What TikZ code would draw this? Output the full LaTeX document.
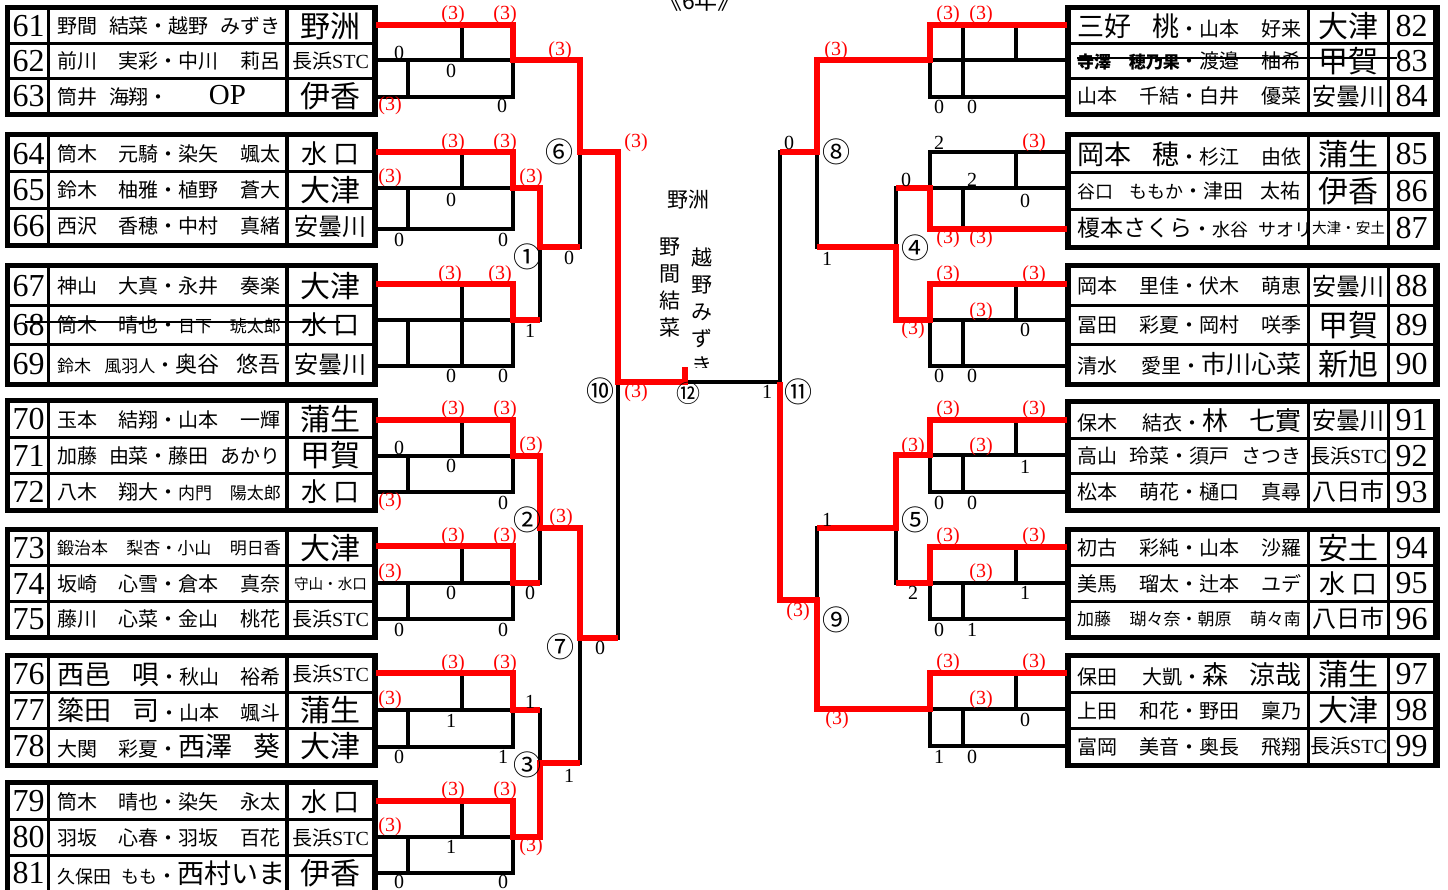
\documentclass[tikz,border=0pt]{standalone}
\usepackage{fontspec}
\setmainfont{Noto Sans CJK JP}
\newfontfamily\lat{Liberation Serif}
\usetikzlibrary{positioning}
\definecolor{winred}{RGB}{255,0,0}

\newcommand{\nmsp}{\hspace{.6em plus 3em}}
\newcommand{\bign}{\fontsize{13.5}{13.5}\selectfont}
\newcommand{\smalln}{\fontsize{8.5}{8.5}\selectfont}
\newcommand{\tmbig}{\fontsize{15}{15}\selectfont}
\newcommand{\tmmid}{\fontsize{12}{12}\selectfont}
\newcommand{\tmsm}{\fontsize{10}{10}\selectfont}
\newcommand{\tmxs}{\fontsize{7.3}{7.3}\selectfont}
\newcommand{\stc}{\tmsm 長浜{\lat STC}}
\newcommand{\mizu}{\fontsize{13}{13}\selectfont 水\hspace{.25em}口}
\newcommand{\pairbox}[1]{\makebox[112pt][s]{#1}}

\newcommand{\lrow}[6]{%
  \pgfmathsetmacro{\rh}{(#3-#2-16)/3}%
  \pgfmathsetmacro{\rt}{#2+5+#4*(\rh+3)}%
  \pgfmathsetmacro{\rb}{\rt+\rh}%
  \pgfmathsetmacro{\rc}{\rt+\rh/2}%
  \fill[white] (10,\rt) rectangle (47,\rb);
  \fill[white] (50,\rt) rectangle (285,\rb);
  \fill[white] (289,\rt) rectangle (372,\rb);
  \coordinate (c#1) at (0,\rc);
  \node[numtxt] (n#1) at (28.5,\rc) {#1};
  \node[pairtxt] (p#1) at (169,\rc) {\pairbox{#5}};
  \node[teamtxt] (t#1) at (330.5,\rc) {#6};
}
\newcommand{\rrow}[6]{%
  \pgfmathsetmacro{\rh}{(#3-#2-16)/3}%
  \pgfmathsetmacro{\rt}{#2+5+#4*(\rh+3)}%
  \pgfmathsetmacro{\rb}{\rt+\rh}%
  \pgfmathsetmacro{\rc}{\rt+\rh/2}%
  \fill[white] (1071,\rt) rectangle (1307,\rb);
  \fill[white] (1310,\rt) rectangle (1387,\rb);
  \fill[white] (1390,\rt) rectangle (1433,\rb);
  \coordinate (c#1) at (0,\rc);
  \node[pairtxt] (p#1) at (1189,\rc) {\pairbox{#5}};
  \node[teamtxt] (t#1) at (1348.5,\rc) {#6};
  \node[numtxt] (n#1) at (1411.5,\rc) {#1};
}
\newcommand{\lleague}[4]{%
  \foreach \yy in {#1,#2,#3} \draw[bline] (376,\yy) -- (513,\yy);
  \draw[bline] (462,#1) -- (462,#4);
  \draw[bline] (408,#2) -- (408,#3);
  \draw[bline] (513,#1) -- (513,#3);
}
\newcommand{\rleague}[4]{%
  \foreach \yy in {#1,#2,#3} \draw[bline] (930,\yy) -- (1067,\yy);
  \draw[bline] (1016,#1) -- (1016,#2);
  \draw[bline] (963,#4) -- (963,#3);
  \draw[bline] (930,#1) -- (930,#3);
}

\begin{document}
\begin{tikzpicture}[x=0.5pt, y=-0.5pt,
  numtxt/.style={font=\lat\fontsize{16}{16}\selectfont, inner sep=0pt},
  pairtxt/.style={font=\fontsize{10}{10}\selectfont, inner sep=0pt},
  teamtxt/.style={font=\tmbig, inner sep=0pt},
  sc/.style={font=\lat\fontsize{10}{10}\selectfont, inner sep=0pt},
  wsc/.style={sc, text=winred},
  circ/.style={font=\fontsize{14}{14}\selectfont, inner sep=0pt},
  vtxt/.style={font=\fontsize{10.5}{13.5}\selectfont, align=center, inner sep=0pt},
  bline/.style={line width=1.7pt, line cap=rect},
  win/.style={line width=3.3pt, draw=winred},
  strike/.style={line width=1.4pt}
]
\path[use as bounding box] (0,0) rectangle (1448,890);
\clip (0,0) rectangle (1448,890);

% left tables
\fill (5,5) rectangle (378,117);
\lrow{61}{5}{117}{0}{野間\nmsp 結菜・越野\nmsp みずき}{野洲}
\lrow{62}{5}{117}{1}{前川\nmsp 実彩・中川\nmsp 莉呂}{\stc}
\lrow{63}{5}{117}{2}{筒井\hspace{.6em}海翔・\hspace{2em}{\lat\fontsize{14.5}{14.5}\selectfont OP}}{伊香}
\fill (5,132) rectangle (378,248);
\lrow{64}{132}{248}{0}{筒木\nmsp 元騎・染矢\nmsp 颯太}{\mizu}
\lrow{65}{132}{248}{1}{鈴木\nmsp 柚雅・植野\nmsp 蒼大}{大津}
\lrow{66}{132}{248}{2}{西沢\nmsp 香穂・中村\nmsp 真緒}{\tmmid 安曇川}
\fill (5,263) rectangle (378,387);
\lrow{67}{263}{387}{0}{神山\nmsp 大真・永井\nmsp 奏楽}{大津}
\lrow{68}{263}{387}{1}{筒木\nmsp 晴也・{\smalln 日下\nmsp 琥太郎}}{\mizu}
\lrow{69}{263}{387}{2}{{\smalln 鈴木\nmsp 風羽人}・{\fontsize{11}{11}\selectfont 奥谷\nmsp 悠吾}}{\tmmid 安曇川}
\fill (5,398) rectangle (378,513);
\lrow{70}{398}{513}{0}{玉本\nmsp 結翔・山本\nmsp 一輝}{蒲生}
\lrow{71}{398}{513}{1}{加藤\nmsp 由菜・藤田\nmsp あかり}{甲賀}
\lrow{72}{398}{513}{2}{八木\nmsp 翔大・{\smalln 内門\nmsp 陽太郎}}{\mizu}
\fill (5,527) rectangle (378,640);
\lrow{73}{527}{640}{0}{{\smalln 鍛治本\nmsp 梨杏・小山\nmsp 明日香}}{大津}
\lrow{74}{527}{640}{1}{坂崎\nmsp 心雪・倉本\nmsp 真奈}{\tmxs 守山・水口}
\lrow{75}{527}{640}{2}{藤川\nmsp 心菜・金山\nmsp 桃花}{\stc}
\fill (5,653) rectangle (378,768);
\lrow{76}{653}{768}{0}{{\bign 西邑\hspace{.8em}唄}・秋山\nmsp 裕希}{\stc}
\lrow{77}{653}{768}{1}{{\bign 簗田\hspace{.8em}司}・山本\nmsp 颯斗}{蒲生}
\lrow{78}{653}{768}{2}{大関\nmsp 彩夏・{\bign 西澤\hspace{.8em}葵}}{大津}
\fill (5,780) rectangle (378,895);
\lrow{79}{780}{895}{0}{筒木\nmsp 晴也・染矢\nmsp 永太}{\mizu}
\lrow{80}{780}{895}{1}{羽坂\nmsp 心春・羽坂\nmsp 百花}{\stc}
\lrow{81}{780}{895}{2}{{\fontsize{9}{9}\selectfont 久保田\nmsp もも}・{\bign 西村いま}}{伊香}

% right tables
\fill (1065,5) rectangle (1440,117);
\rrow{82}{5}{117}{0}{{\bign 三好\hspace{.8em}桃}・山本\nmsp 好来}{大津}
\rrow{83}{5}{117}{1}{{\bfseries\smalln 寺澤\nmsp 穂乃果}・渡邉\nmsp 柚希}{甲賀}
\rrow{84}{5}{117}{2}{山本\nmsp 千結・白井\nmsp 優菜}{\tmmid 安曇川}
\fill (1065,132) rectangle (1440,250);
\rrow{85}{132}{250}{0}{{\bign 岡本\hspace{.8em}穂}・杉江\nmsp 由依}{蒲生}
\rrow{86}{132}{250}{1}{{\fontsize{9}{9}\selectfont 谷口\nmsp ももか}・津田\nmsp 太祐}{伊香}
\rrow{87}{132}{250}{2}{{\fontsize{11.5}{11.5}\selectfont 榎本さくら}・{\fontsize{9}{9}\selectfont 水谷\nmsp サオリ}}{\tmxs 大津・安土}
\fill (1065,263) rectangle (1440,387);
\rrow{88}{263}{387}{0}{岡本\nmsp 里佳・伏木\nmsp 萌恵}{\tmmid 安曇川}
\rrow{89}{263}{387}{1}{冨田\nmsp 彩夏・岡村\nmsp 咲季}{甲賀}
\rrow{90}{263}{387}{2}{清水\nmsp 愛里・{\fontsize{12.5}{12.5}\selectfont 市川心菜}}{新旭}
\fill (1065,399) rectangle (1440,513);
\rrow{91}{399}{513}{0}{保木\nmsp 結衣・{\fontsize{13}{13}\selectfont 林\hspace{.8em}七實}}{\tmmid 安曇川}
\rrow{92}{399}{513}{1}{高山\nmsp 玲菜・須戸\nmsp さつき}{\stc}
\rrow{93}{399}{513}{2}{松本\nmsp 萌花・樋口\nmsp 真尋}{\tmmid 八日市}
\fill (1065,527) rectangle (1440,640);
\rrow{94}{527}{640}{0}{初古\nmsp 彩純・山本\nmsp 沙羅}{安土}
\rrow{95}{527}{640}{1}{美馬\nmsp 瑠太・辻本\nmsp ユデ}{\mizu}
\rrow{96}{527}{640}{2}{{\smalln 加藤\nmsp 瑚々奈・朝原\nmsp 萌々南}}{\tmmid 八日市}
\fill (1065,653) rectangle (1440,768);
\rrow{97}{653}{768}{0}{保田\nmsp 大凱・{\fontsize{13}{13}\selectfont 森\hspace{.8em}涼哉}}{蒲生}
\rrow{98}{653}{768}{1}{上田\nmsp 和花・野田\nmsp 稟乃}{大津}
\rrow{99}{653}{768}{2}{富岡\nmsp 美音・奥長\nmsp 飛翔}{\stc}

\draw[strike] ([shift={(25,-3)}]c68) -- ([shift={(340,-3)}]c68);
\draw[strike] ([shift={(1077,-3)}]c83) -- ([shift={(1397,-3)}]c83);

% league lines
\lleague{25}{60}{97}{60}
\lleague{152}{188}{229}{188}
\lleague{284}{320}{366}{366}
\lleague{420}{456}{492}{456}
\lleague{546}{583}{619}{583}
\lleague{673}{710}{747}{710}
\lleague{801}{837}{873}{837}
\rleague{25}{60}{97}{25}
\rleague{152}{188}{229}{188}
\rleague{284}{320}{366}{320}
\rleague{420}{455}{492}{455}
\rleague{547}{583}{619}{583}
\rleague{673}{709}{746}{709}

% bracket points
\coordinate (gl1) at (513,60);  \coordinate (gl2) at (513,188);
\coordinate (gl3) at (513,320); \coordinate (gl4) at (513,456);
\coordinate (gl5) at (513,583); \coordinate (gl6) at (513,710);
\coordinate (gl7) at (513,837);
\coordinate (gr1) at (930,60);  \coordinate (gr2) at (930,188);
\coordinate (gr3) at (930,320); \coordinate (gr4) at (930,455);
\coordinate (gr5) at (930,583); \coordinate (gr6) at (930,709);
\coordinate (m1) at (540,247);  \coordinate (m2) at (540,528);
\coordinate (m3) at (540,763);  \coordinate (m6) at (580,152);
\coordinate (m7) at (580,638);  \coordinate (m10) at (618,382);
\coordinate (m12) at (685,382); \coordinate (m11) at (780,382);
\coordinate (m8) at (817,152);  \coordinate (m9) at (817,600);
\coordinate (m4) at (896,247);  \coordinate (m5) at (896,528);

\draw[bline] (m6) -- (m1 -| m6);
\draw[bline] (m1) -- (gl3 -| m1);
\draw[bline] (m10) -- (m7 -| m10);
\draw[bline] (m2) -- (gl5 -| m2);
\draw[bline] (gl6 -| m3) -- (m3);
\draw[bline] (m7) -- (m3 -| m7);
\draw[bline] (m12) -- (m11);
\draw[bline] (m8 -| m11) -- (m11);
\draw[bline] (m8) -- (m4 -| m8);
\draw[bline] (gr2 -| m4) -- (m4);
\draw[bline] (m5 -| m9) -- (m9);
\draw[bline] (m5) -- (gr5 -| m5);

\draw[win] (376,25) -| (gl1) -| (m6) -| (m10) -- (m12) -- ++(0,-15);
\draw[win] (376,152) -| (gl2) -| (m1) -- (m1 -| m6);
\draw[win] (376,284) -| (gl3) -- (gl3 -| m1);
\draw[win] (376,420) -| (gl4) -| (m2) -| (m7) -- (m7 -| m10);
\draw[win] (376,546) -| (gl5) -- (gl5 -| m2);
\draw[win] (376,673) -| (gl6) -- (gl6 -| m3);
\draw[win] (376,801) -| (gl7) -| (m3) -- (m3 -| m7);
\draw[win] (1067,25) -| (gr1) -| (m8) -- (m8 -| m11);
\draw[win] (1067,229) -| (gr2) -- (gr2 -| m4);
\draw[win] (1067,284) -| (gr3) -| (m4) -- (m4 -| m8);
\draw[win] (1067,420) -| (gr4) -| (m5) -- (m5 -| m9);
\draw[win] (1067,547) -| (gr5) -- (gr5 -| m5);
\draw[win] (1067,673) -| (gr6) -| (m9) -| (m11);

% scores
\foreach \x/\y/\s [count=\i] in {399/53/0, 451/71/0, 502/106/0, 451/200/0, 399/240/0,
  503/240/0, 451/376/0, 503/376/0, 399/448/0, 451/466/0, 503/503/0, 451/593/0,
  399/630/0, 503/630/0, 451/721/1, 399/757/0, 503/757/1, 451/847/1, 399/882/0,
  503/882/0, 569/258/0, 530/331/1, 530/593/0, 600/648/0, 530/702/1, 569/776/1,
  767/392/1, 939/107/0, 972/107/0, 939/143/2, 972/180/2, 1025/201/0, 1025/330/0,
  939/376/0, 972/376/0, 1025/467/1, 939/503/0, 972/503/0, 1025/593/1, 939/630/0,
  972/630/1, 1025/720/0, 939/757/1, 972/757/0, 789/143/0, 827/259/1, 906/180/0,
  827/520/1, 913/593/2}
  \node[sc] (b\i) at (\x,\y) {\s};
\foreach \x/\y [count=\i] in {453/15, 505/15, 390/106, 453/143, 505/143, 390/178,
  450/275, 500/275, 453/410, 505/410, 390/502, 453/537, 505/537, 390/573, 453/664,
  505/664, 390/700, 453/791, 505/791, 390/827, 560/51, 636/143, 531/178, 531/446,
  561/518, 531/847, 636/393, 948/15, 981/15, 1034/143, 948/239, 981/239, 948/275,
  1034/275, 981/312, 948/410, 1034/410, 981/447, 948/537, 1034/537, 981/573,
  948/663, 1034/663, 981/700, 836/51, 913/330, 913/447, 798/612, 837/720}
  \node[wsc] (r\i) at (\x,\y) {(3)};

% match numbers
\node[circ] (k1) at (527,257) {①};
\node[circ] (k2) at (527,520) {②};
\node[circ] (k3) at (527,765) {③};
\node[circ] (k4) at (915,248) {④};
\node[circ] (k5) at (915,520) {⑤};
\node[circ] (k6) at (559,152) {⑥};
\node[circ] (k7) at (560,647) {⑦};
\node[circ] (k8) at (836,152) {⑧};
\node[circ] (k9) at (836,620) {⑨};
\node[circ] (k10) at (600,391) {⑩};
\node[circ] (k11) at (798,392) {⑪};
\node[circ, font=\fontsize{12}{12}\selectfont] (k12) at (688,393) {⑫};

% champions
\node[font=\fontsize{11.5}{11.5}\selectfont, anchor=base, inner sep=0pt] (title) at (700,9) {《6年》};
\node[font=\fontsize{10.5}{10.5}\selectfont, inner sep=0pt] (venue) at (688,200) {野洲};
\begin{scope}
  \clip (640,225) rectangle (740,367);
  \node[vtxt] (champa) at (670,288) {野\\間\\結\\菜};
  \node[vtxt] (champb) at (702,311) {越\\野\\み\\ず\\き};
\end{scope}
\end{tikzpicture}
\end{document}
